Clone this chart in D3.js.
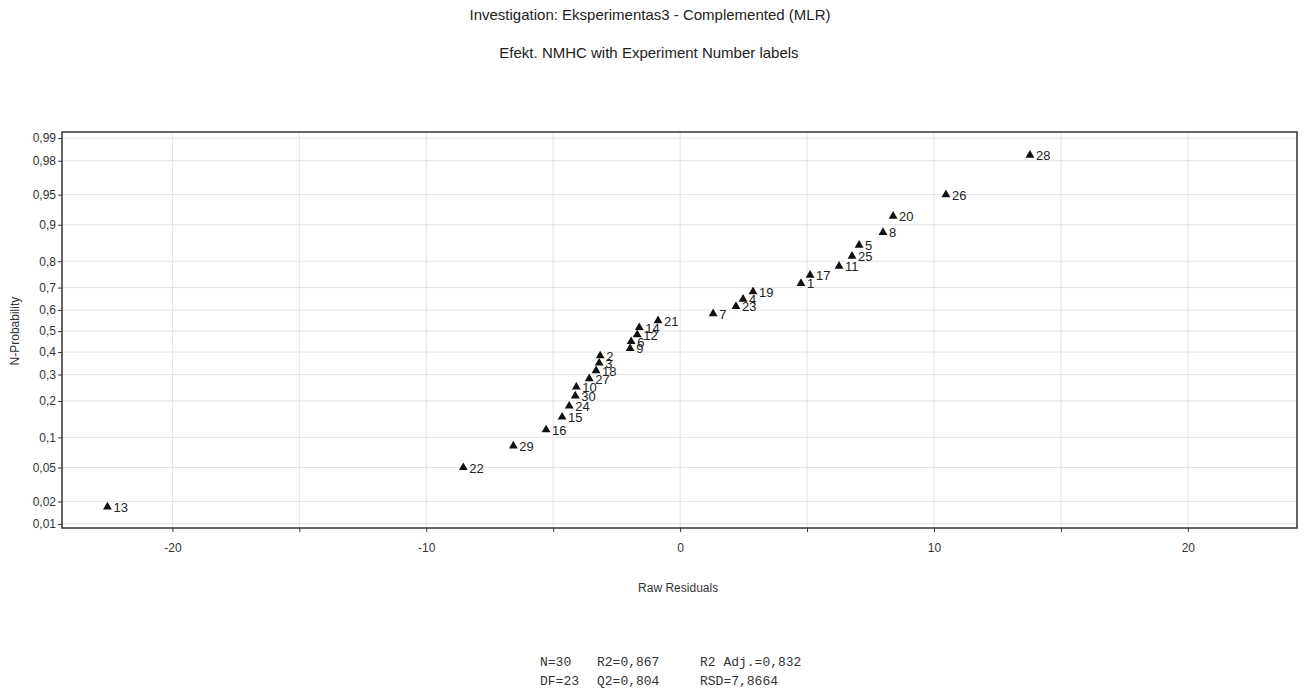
<!DOCTYPE html>
<html>
<head>
<meta charset="utf-8">
<script src="https://cdn.jsdelivr.net/npm/d3@7"></script>
<style>
  body { margin: 0; background: #fff; }
  svg { display: block; font-family: "Liberation Sans", Arial, sans-serif; }
  .grid line { stroke: #e4e4e4; }
  .axis path, .axis line { stroke: #333; }
  .axis text { font-size: 12px; fill: #333; }
</style>
</head>
<body>
<div id="graf"></div>
<script>
// datos (orden por probabilidad)
const experimentos = [13, 22, 29, 16, 15, 24, 30, 10, 27, 18, 3, 2, 9, 6, 12, 14, 21, 7, 23, 4, 19, 1, 17, 11, 25, 5, 8, 20, 26, 28];
const residuos = [-22.56, -8.54, -6.57, -5.28, -4.65, -4.37, -4.13, -4.09, -3.58, -3.31, -3.19, -3.15, -1.97, -1.93, -1.69, -1.61,
  -0.87, 1.30, 2.20, 2.48, 2.87, 4.76, 5.12, 6.26, 6.77, 7.05, 7.99, 8.39, 10.47, 13.78];
const probabilidad = [0.017, 0.050, 0.083, 0.117, 0.150, 0.183, 0.217, 0.250, 0.283, 0.317, 0.350, 0.383, 0.417, 0.450, 0.483,
  0.517, 0.550, 0.583, 0.617, 0.650, 0.683, 0.717, 0.750, 0.783, 0.817, 0.850, 0.883, 0.917, 0.950, 0.983];
const yTicks = [0.01, 0.02, 0.05, 0.1, 0.2, 0.3, 0.4, 0.5, 0.6, 0.7, 0.8, 0.9, 0.95, 0.98, 0.99];
const xTicks = [-20, -10, 0, 10, 20];
const xGrid = [-20, -15, -10, -5, 0, 5, 10, 15, 20];
const stats = [["N=30", "R2=0,867", "R2 Adj.=0,832"], ["DF=23", "Q2=0,804", "RSD=7,8664"]];

const W = 1305, H = 697;
const margin = { top: 132, right: 8, bottom: 169, left: 62 };
const innerW = W - margin.left - margin.right;
const innerH = H - margin.top - margin.bottom;

// inversa de la normal (Acklam) para el eje de probabilidad normal
const probit = (p) => {
  const a = [-3.969683028665376e+01, 2.209460984245205e+02, -2.759285104469687e+02, 1.383577518672690e+02, -3.066479806614716e+01, 2.506628277459239e+00];
  const b = [-5.447609879822406e+01, 1.615858368580409e+02, -1.556989798598866e+02, 6.680131188771972e+01, -1.328068155288572e+01];
  const c = [-7.784894002430293e-03, -3.223964580411365e-01, -2.400758277161838e+00, -2.549732539343734e+00, 4.374664141464968e+00, 2.938163982698783e+00];
  const d = [7.784695709041462e-03, 3.224671290700398e-01, 2.445134137142996e+00, 3.754408661907416e+00];
  const pl = 0.02425;
  let q, r;
  if (p < pl) {
    q = Math.sqrt(-2 * Math.log(p));
    return (((((c[0]*q+c[1])*q+c[2])*q+c[3])*q+c[4])*q+c[5]) / ((((d[0]*q+d[1])*q+d[2])*q+d[3])*q+1);
  }
  if (p > 1 - pl) {
    q = Math.sqrt(-2 * Math.log(1 - p));
    return -(((((c[0]*q+c[1])*q+c[2])*q+c[3])*q+c[4])*q+c[5]) / ((((d[0]*q+d[1])*q+d[2])*q+d[3])*q+1);
  }
  q = p - 0.5; r = q * q;
  return (((((a[0]*r+a[1])*r+a[2])*r+a[3])*r+a[4])*r+a[5])*q / (((((b[0]*r+b[1])*r+b[2])*r+b[3])*r+b[4])*r+1);
};

const svg = d3.select("#graf").append("svg").attr("width", W).attr("height", H);

// titulos
svg.append("text").attr("x", 650).attr("y", 20).attr("text-anchor", "middle")
  .attr("font-size", 15).attr("fill", "#222")
  .text("Investigation: Eksperimentas3 - Complemented (MLR)");
svg.append("text").attr("x", 649).attr("y", 58).attr("text-anchor", "middle")
  .attr("font-size", 15).attr("fill", "#222")
  .text("Efekt. NMHC with Experiment Number labels");

const g = svg.append("g").attr("transform", `translate(${margin.left},${margin.top})`);

const x = d3.scaleLinear().domain([-24.35, 24.3]).range([0, innerW]);
const zScale = d3.scaleLinear().domain([probit(0.0088), probit(0.9918)]).range([innerH, 0]);
const y = (p) => zScale(probit(p));

// rejilla
g.append("g").attr("class", "grid").selectAll("line").data(yTicks).join("line")
  .attr("x1", 0).attr("x2", innerW).attr("y1", (d) => y(d)).attr("y2", (d) => y(d));
g.append("g").attr("class", "grid").selectAll("line").data(xGrid).join("line")
  .attr("x1", (d) => x(d)).attr("x2", (d) => x(d)).attr("y1", 0).attr("y2", innerH);

// marco
g.append("rect").attr("width", innerW).attr("height", innerH)
  .attr("fill", "none").attr("stroke", "#333").attr("stroke-width", 1.5);

// ejes
const yAxis = d3.axisLeft(d3.scaleLinear().domain(zScale.domain()).range(zScale.range()))
  .tickValues(yTicks.map(probit))
  .tickFormat((d, i) => String(yTicks[i]).replace(".", ","))
  .tickSize(4).tickPadding(2);
g.append("g").attr("class", "axis").call(yAxis).call((s) => s.select(".domain").remove());

g.append("g").attr("class", "axis").attr("transform", `translate(0,${innerH})`)
  .call(d3.axisBottom(x).tickValues(xGrid).tickFormat((d) => xTicks.includes(d) ? d : "").tickSize(4).tickPadding(11))
  .call((s) => s.select(".domain").remove());

svg.append("text").attr("transform", `translate(19,${margin.top + y(0.5)}) rotate(-90)`)
  .attr("text-anchor", "middle").attr("font-size", 12).attr("fill", "#333").text("N-Probability");
svg.append("text").attr("x", margin.left + x(0) - 2).attr("y", 592).attr("text-anchor", "middle")
  .attr("font-size", 12).attr("fill", "#333").text("Raw Residuals");

// puntos
const puntos = experimentos.map((e, i) => ({ e, r: residuos[i], p: probabilidad[i] }));
const tri = d3.symbol().type(d3.symbolTriangle).size(34);
const pg = g.append("g").selectAll("g").data(puntos).join("g")
  .attr("transform", (d) => `translate(${x(d.r)},${y(d.p)})`);
pg.append("path").attr("d", tri).attr("fill", "#111");
pg.append("text").attr("x", 6).attr("y", 5).attr("font-size", 13).attr("fill", "#222").text((d) => d.e);

// estadisticas
const colX = [540, 597, 700];
stats.forEach((row, r) => {
  row.forEach((t, c) => {
    svg.append("text").attr("x", colX[c]).attr("y", 666 + r * 19)
      .attr("font-family", "'Liberation Mono', monospace").attr("font-size", 13).attr("fill", "#333")
      .text(t);
  });
});
</script>
</body>
</html>
